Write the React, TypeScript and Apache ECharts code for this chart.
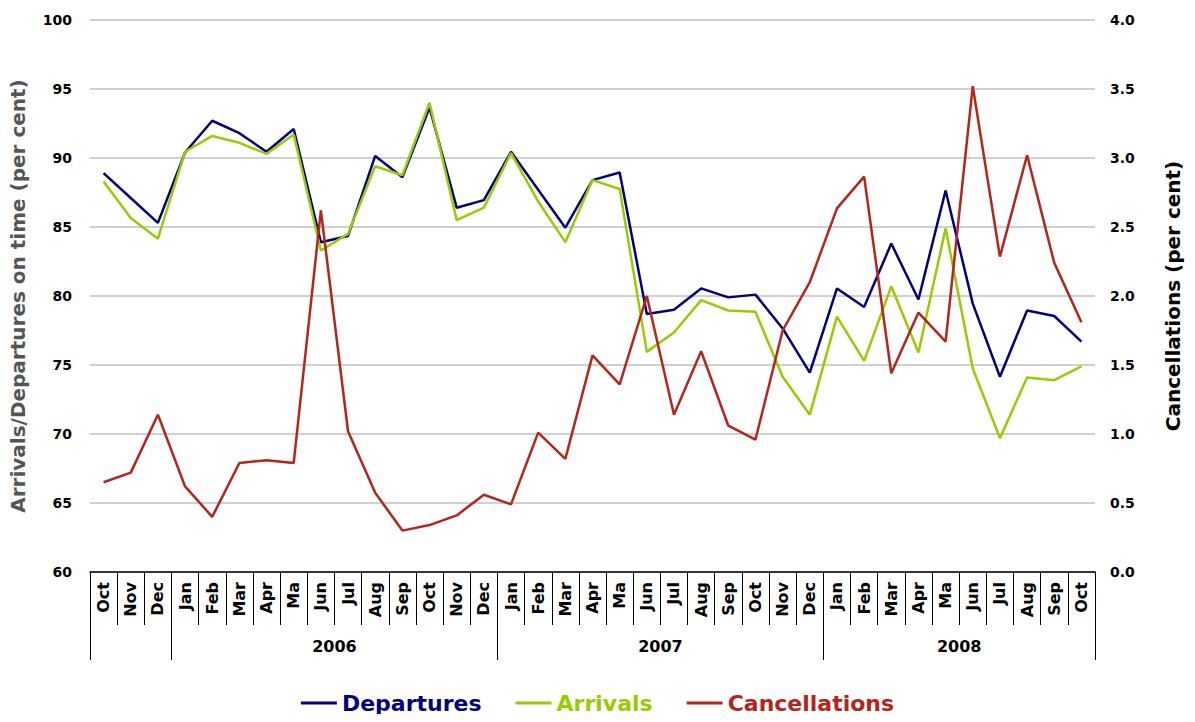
import React, { useEffect, useRef } from "react";
import * as echarts from "echarts";

const months = [
  "Oct", "Nov", "Dec",
  "Jan", "Feb", "Mar", "Apr", "Ma", "Jun", "Jul", "Aug", "Sep", "Oct", "Nov", "Dec",
  "Jan", "Feb", "Mar", "Apr", "Ma", "Jun", "Jul", "Aug", "Sep", "Oct", "Nov", "Dec",
  "Jan", "Feb", "Mar", "Apr", "Ma", "Jun", "Jul", "Aug", "Sep", "Oct",
];
const years = [
  "2005", "2005", "2005",
  "2006", "2006", "2006", "2006", "2006", "2006", "2006", "2006", "2006", "2006", "2006", "2006",
  "2007", "2007", "2007", "2007", "2007", "2007", "2007", "2007", "2007", "2007", "2007", "2007",
  "2008", "2008", "2008", "2008", "2008", "2008", "2008", "2008", "2008", "2008",
];
const labelledYears = ["2006", "2007", "2008"];

const departures = [
  88.9, 87.1, 85.3,
  90.4, 92.7, 91.8, 90.45, 92.1, 83.9, 84.35, 90.15, 88.6, 93.65, 86.4, 86.95,
  90.45, 87.7, 84.95, 88.4, 88.95, 78.7, 79.0, 80.55, 79.9, 80.1, 77.65, 74.45,
  80.55, 79.2, 83.8, 79.75, 87.65, 79.45, 74.15, 78.95, 78.55, 76.7,
];
const arrivals = [
  88.3, 85.65, 84.15,
  90.45, 91.6, 91.1, 90.3, 91.7, 83.3, 84.5, 89.4, 88.75, 94.0, 85.5, 86.4,
  90.35, 86.85, 83.9, 88.4, 87.75, 75.95, 77.35, 79.7, 78.95, 78.85, 74.15, 71.4,
  78.5, 75.3, 80.7, 75.9, 84.9, 74.75, 69.7, 74.1, 73.9, 74.9,
];
const cancellations = [
  0.65, 0.72, 1.14,
  0.62, 0.4, 0.79, 0.81, 0.79, 2.62, 1.02, 0.575, 0.3, 0.34, 0.41, 0.56,
  0.49, 1.01, 0.82, 1.57, 1.36, 2.0, 1.14, 1.6, 1.06, 0.96, 1.75, 2.1,
  2.635, 2.865, 1.44, 1.88, 1.67, 3.52, 2.285, 3.02, 2.24, 1.81,
];

const seriesNames = ["Departures", "Arrivals", "Cancellations"];
const seriesColors = ["#000080", "#99cc00", "#b7241b"];

const FONT = "DejaVu Sans";

export default function App() {
  const ref = useRef<HTMLDivElement>(null);

  useEffect(() => {
    if (!ref.current) return;
    const chart = echarts.init(ref.current, null, { renderer: "svg" });

    // year group boundaries and centres from the category list
    const boundaries: number[] = [0];
    for (let i = 1; i < years.length; i++) {
      if (years[i] !== years[i - 1]) boundaries.push(i);
    }
    boundaries.push(years.length);
    const centres: number[] = [];
    const centreLabel: Record<string, string> = {};
    for (let b = 0; b < boundaries.length - 1; b++) {
      const y = years[boundaries[b]];
      if (labelledYears.indexOf(y) >= 0) {
        const c = (boundaries[b] + boundaries[b + 1]) / 2;
        centres.push(c);
        centreLabel[String(c)] = y;
      }
    }

    const dataSets = [departures, arrivals, cancellations];

    chart.setOption({
      animation: false,
      backgroundColor: "#ffffff",
      textStyle: { fontFamily: FONT },
      grid: { left: 90, right: 100, top: 20, bottom: 150, containLabel: false },
      legend: {
        top: 686,
        left: "center",
        itemWidth: 36,
        itemHeight: 3,
        itemGap: 34,
        icon: "rect",
        data: seriesNames.map((n, i) => ({
          name: n,
          textStyle: {
            color: seriesColors[i],
            fontWeight: "bold",
            fontSize: 22,
            lineHeight: 24,
            fontFamily: FONT,
          },
        })),
      },
      xAxis: [
        {
          type: "category",
          data: months,
          boundaryGap: true,
          position: "bottom",
          axisLine: { show: true, lineStyle: { color: "#000", width: 1.5 } },
          axisTick: {
            show: true,
            interval: 0,
            length: 53,
            lineStyle: { color: "#000", width: 1 },
          },
          axisLabel: {
            interval: 0,
            rotate: 90,
            margin: 10,
            color: "#000",
            fontWeight: "bold",
            fontSize: 16,
            fontFamily: FONT,
          },
          splitLine: { show: false },
        },
        {
          type: "value",
          min: 0,
          max: months.length,
          position: "bottom",
          axisLine: { show: false },
          axisTick: {
            show: true,
            customValues: boundaries,
            length: 88,
            lineStyle: { color: "#000", width: 1 },
          },
          axisLabel: {
            customValues: centres,
            margin: 66,
            color: "#000",
            fontWeight: "bold",
            fontSize: 16,
            fontFamily: FONT,
            formatter: (v: number) => centreLabel[String(v)] || "",
          },
          splitLine: { show: false },
        },
      ],
      yAxis: [
        {
          type: "value",
          min: 60,
          max: 100,
          interval: 5,
          position: "left",
          name: "Arrivals/Departures on time (per cent)",
          nameLocation: "middle",
          nameGap: 62,
          nameTextStyle: {
            color: "#555555",
            fontWeight: "bold",
            fontSize: 20,
            fontFamily: FONT,
          },
          axisLine: { show: false },
          axisTick: { show: false },
          axisLabel: {
            margin: 18,
            color: "#000",
            fontWeight: "bold",
            fontSize: 14,
            fontFamily: FONT,
          },
          splitLine: { show: true, lineStyle: { color: "#c0c0c0", width: 1.5 } },
        },
        {
          type: "value",
          min: 0,
          max: 4,
          interval: 0.5,
          position: "right",
          name: "Cancellations (per cent)",
          nameLocation: "middle",
          nameGap: 68,
          nameTextStyle: {
            color: "#000",
            fontWeight: "bold",
            fontSize: 20,
            fontFamily: FONT,
          },
          axisLine: { show: false },
          axisTick: { show: false },
          axisLabel: {
            margin: 15,
            color: "#000",
            fontWeight: "bold",
            fontSize: 14,
            fontFamily: FONT,
            formatter: (v: number) => v.toFixed(1),
          },
          splitLine: { show: false },
        },
      ],
      series: seriesNames.map((n, i) => ({
        name: n,
        type: "line",
        xAxisIndex: 0,
        yAxisIndex: i === 2 ? 1 : 0,
        data: dataSets[i],
        symbol: "none",
        lineStyle: { color: seriesColors[i], width: 2.5 },
        itemStyle: { color: seriesColors[i] },
      })),
    });

    return () => chart.dispose();
  }, []);

  return <div ref={ref} style={{ width: 1195, height: 722, margin: -8 }} />;
}
